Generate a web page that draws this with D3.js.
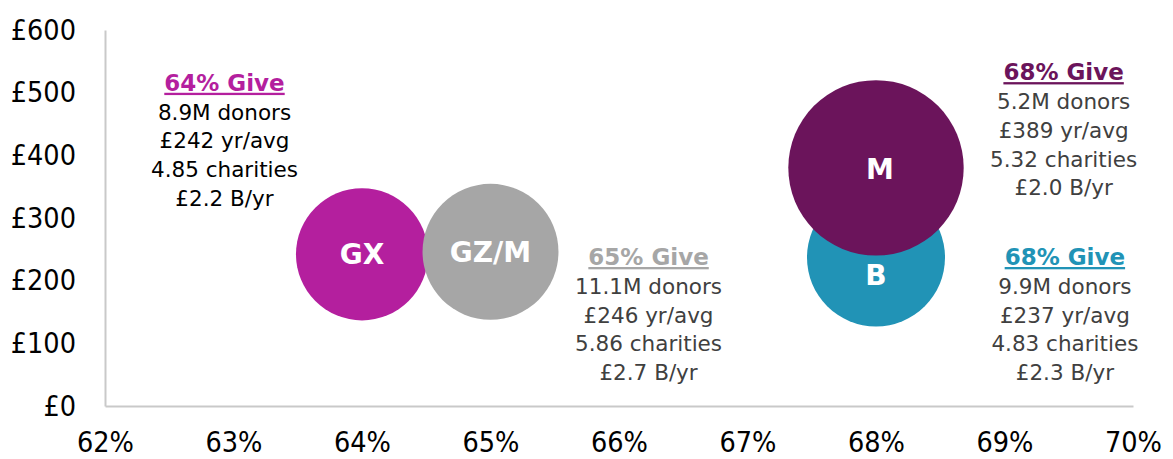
<!DOCTYPE html>
<html>
<head>
<meta charset="utf-8">
<script src="https://cdn.jsdelivr.net/npm/d3@7"></script>
<style>
  html, body { margin: 0; padding: 0; background: #fff; }
  svg { display: block; }
</style>
</head>
<body>
<svg id="chart" width="1173" height="459"></svg>
<script>
// ---- data ----
const segments   = ["GX", "GZ/M", "B", "M"];
const givePct    = [64, 65, 68, 68];          // x: % who give
const avgGift    = [242, 246, 237, 380];      // y: £ per year (bubble position)
const bubbleSize = [4.36, 4.62, 4.76, 7.69];  // relative bubble area
const colors     = ["#b41f9e", "#a6a6a6", "#2193b6", "#6b145b"];

const xTicks = [62, 63, 64, 65, 66, 67, 68, 69, 70];
const yTicks = [0, 100, 200, 300, 400, 500, 600];

// annotation blocks
const noteTitles = ["64% Give", "65% Give", "68% Give", "68% Give"];
const noteLines  = [
  ["8.9M donors", "£242 yr/avg", "4.85 charities", "£2.2 B/yr"],
  ["11.1M donors", "£246 yr/avg", "5.86 charities", "£2.7 B/yr"],
  ["9.9M donors", "£237 yr/avg", "4.83 charities", "£2.3 B/yr"],
  ["5.2M donors", "£389 yr/avg", "5.32 charities", "£2.0 B/yr"]
];
// anchor of each note in data coordinates (centre x %, title baseline £)
const noteX = [62.93, 66.23, 69.47, 69.46];
const noteY = [503, 225, 225, 520];
const noteBody = ["#000000", "#404040", "#404040", "#404040"];

// ---- layout ----
const svg = d3.select("#chart");
const x = d3.scaleLinear().domain([62, 70]).range([105, 1133]);
const y = d3.scaleLinear().domain([0, 600]).range([406, 30]);
const r = d3.scaleSqrt().domain([0, d3.max(bubbleSize)]).range([0, 87.7]);

const axisFont = "'DejaVu Sans', Verdana, sans-serif";

// axes lines
const yAxis = svg.append("g").attr("transform", "translate(105,0)")
  .call(d3.axisLeft(y).tickValues(yTicks).tickSize(0).tickPadding(29)
        .tickFormat(d => "£" + d));
const xAxis = svg.append("g").attr("transform", "translate(0,406)")
  .call(d3.axisBottom(x).tickValues(xTicks).tickSize(0).tickPadding(26)
        .tickFormat(d => d + "%"));
[yAxis, xAxis].forEach(g => {
  g.select(".domain").attr("stroke", "#c9c9c9").attr("stroke-width", 2);
  g.selectAll("text").attr("fill", "#000")
    .style("font-family", axisFont).style("font-stretch", "condensed")
    .style("font-size", "28.5px");
});
xAxis.selectAll("text").attr("dy", "0.71em");

// bubbles
const idx = d3.range(segments.length);
svg.append("g").selectAll("circle").data(idx).join("circle")
  .attr("cx", i => x(givePct[i]))
  .attr("cy", i => y(avgGift[i]))
  .attr("r", i => r(bubbleSize[i]))
  .attr("fill", i => colors[i]);

// bubble labels
const labelDy = [0, 0, 17, 1];
svg.append("g").selectAll("text").data(idx).join("text")
  .attr("x", i => x(givePct[i]) + (segments[i] === "M" ? 4 : 0))
  .attr("y", i => y(avgGift[i]) + labelDy[i])
  .attr("dy", "0.36em")
  .attr("text-anchor", "middle")
  .attr("fill", "#fff")
  .style("font-family", "'DejaVu Sans', Verdana, sans-serif")
  .style("font-weight", "bold")
  .style("font-size", "28px")
  .text(i => segments[i]);

// notes
const notes = svg.append("g");
idx.forEach(i => {
  const cx = x(noteX[i]);
  const ty = y(noteY[i]);
  notes.append("text")
    .attr("x", cx).attr("y", ty)
    .attr("text-anchor", "middle")
    .attr("fill", colors[i])
    .style("font-family", "'DejaVu Sans', Verdana, sans-serif")
    .style("font-weight", "bold")
    .style("font-size", "23px")
    .style("text-decoration", "underline")
    .text(noteTitles[i]);
  noteLines[i].forEach((ln, k) => {
    notes.append("text")
      .attr("x", cx).attr("y", ty + 28.8 * (k + 1))
      .attr("text-anchor", "middle")
      .attr("fill", noteBody[i])
      .style("font-family", "'DejaVu Sans', Verdana, sans-serif")
      .style("font-size", "21.5px")
      .text(ln);
  });
});
</script>
</body>
</html>
